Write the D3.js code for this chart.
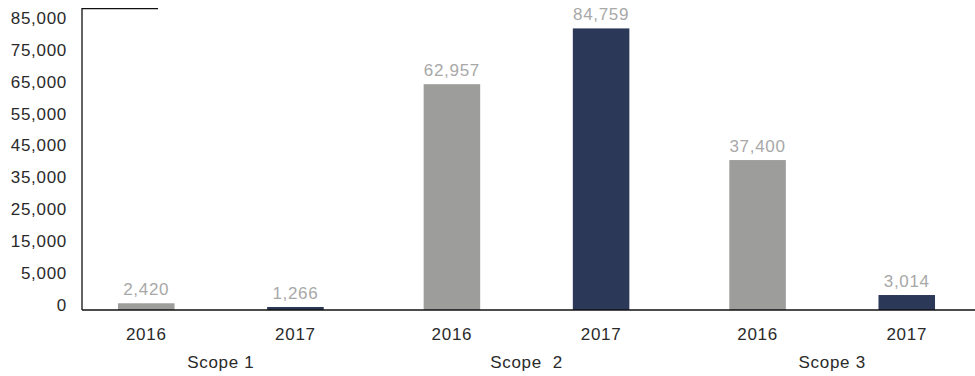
<!DOCTYPE html>
<meta charset="utf-8">
<script src="https://d3js.org/d3.v7.min.js"></script>
<style>
  body { margin: 0; background: #fff; }
  text { font-family: "Liberation Sans", Arial, sans-serif; letter-spacing: 0.7px; }
</style>
<div id="chart"></div>
<script>
// data
var scopes = ["Scope 1", "Scope  2", "Scope 3"];
var years = ["2016", "2017"];
// bar heights
var values2016 = [1050, 65800, 42000];
var values2017 = [470, 83300, 2340];
// numbers printed above the bars
var labels2016 = ["2,420", "62,957", "37,400"];
var labels2017 = ["1,266", "84,759", "3,014"];
var tickValues = [0, 5000, 15000, 25000, 35000, 45000, 55000, 65000, 75000, 85000];
var axisMax = 89500;

var colors = { "2016": "#9d9d9b", "2017": "#2b3858" };
var width = 975, height = 376;

var data = [];
scopes.forEach(function(s, i) {
  data.push({ scope: s, year: "2016", value: values2016[i], label: labels2016[i] });
  data.push({ scope: s, year: "2017", value: values2017[i], label: labels2017[i] });
});

var svg = d3.select("#chart")
  .append("svg")
    .attr("width", width)
    .attr("height", height);

// scales
var y = d3.scaleLinear()
  .domain([0, 5000, 85000])
  .range([310, 278, 23]);

var x0 = d3.scaleBand()
  .domain(scopes)
  .range([68, 985]);

var x1 = d3.scaleBand()
  .domain(years)
  .range([0, x0.bandwidth()])
  .paddingInner(0.621)
  .paddingOuter(0.335);

var axisLeftX = 82;

// Y axis
var yAxis = svg.append("g")
  .attr("transform", "translate(" + axisLeftX + ",0)")
  .call(d3.axisLeft(y).tickValues(tickValues).tickSize(0).tickPadding(15).tickFormat(d3.format(",")));
yAxis.select(".domain").remove();
yAxis.selectAll("text")
  .attr("y", -5)
  .style("font-size", "17px")
  .style("fill", "#2a2a2a");

// axis line with the small cap at the top
svg.append("path")
  .attr("d", "M" + (axisLeftX + 76) + "," + y(axisMax) + "H" + axisLeftX + "V" + y(0))
  .attr("fill", "none")
  .attr("stroke", "#111")
  .attr("stroke-width", 1.3);

// Bars
var bar = svg.selectAll(".bar")
  .data(data)
  .enter()
  .append("g")
    .attr("transform", function(d) { return "translate(" + (x0(d.scope) + x1(d.year)) + ",0)"; });

bar.append("rect")
  .attr("x", 0)
  .attr("y", function(d) { return y(d.value); })
  .attr("width", x1.bandwidth())
  .attr("height", function(d) { return y(0) - y(d.value); })
  .attr("fill", function(d) { return colors[d.year]; });

// value labels
bar.append("text")
  .attr("x", x1.bandwidth() / 2)
  .attr("y", function(d) { return y(d.value) - 8; })
  .attr("text-anchor", "middle")
  .style("font-size", "17px")
  .style("fill", "#a8a8a8")
  .text(function(d) { return d.label; });

// year labels
bar.append("text")
  .attr("x", x1.bandwidth() / 2)
  .attr("y", 340)
  .attr("text-anchor", "middle")
  .style("font-size", "17px")
  .style("fill", "#2a2a2a")
  .text(function(d) { return d.year; });

// baseline
svg.append("line")
  .attr("x1", axisLeftX)
  .attr("x2", width)
  .attr("y1", y(0))
  .attr("y2", y(0))
  .attr("stroke", "#111")
  .attr("stroke-width", 1.3);

// scope labels
svg.selectAll(".scope")
  .data(scopes)
  .enter()
  .append("text")
    .attr("x", function(d) { return x0(d) + x0.bandwidth() / 2; })
    .attr("y", 368)
    .attr("text-anchor", "middle")
    .style("font-size", "17px")
    .style("fill", "#2a2a2a")
    .style("white-space", "pre")
    .text(function(d) { return d; });
</script>
